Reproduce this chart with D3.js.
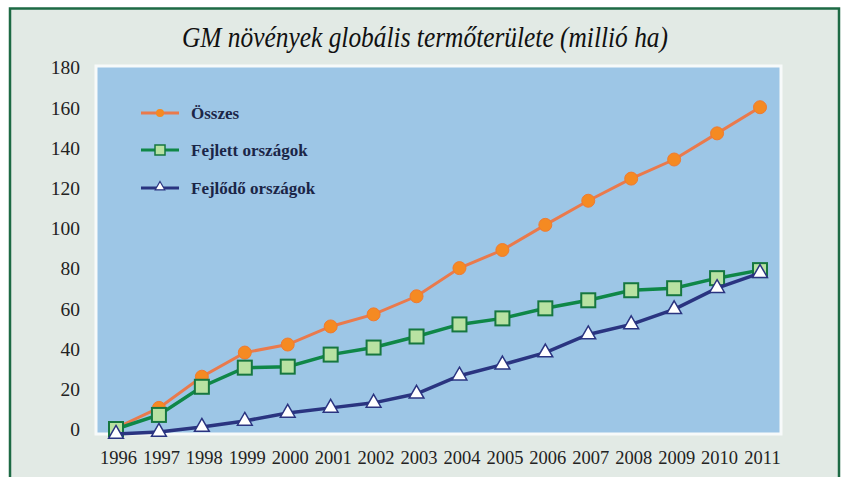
<!DOCTYPE html>
<html><head><meta charset="utf-8">
<script src="https://cdn.jsdelivr.net/npm/d3@7"></script>
<style>html,body{margin:0;padding:0;background:#e2eae5;}svg{display:block;}</style>
</head><body>
<svg id="chart" width="842" height="477" font-family="Liberation Serif"></svg>
<script>
const years = [1996,1997,1998,1999,2000,2001,2002,2003,2004,2005,2006,2007,2008,2009,2010,2011];
const osszes = [0.5,10.5,26,38,42,51,57,66,80,89,101.5,113.5,124.5,134,147,160];
const fejlett = [0,7,21,30.5,31,37,40.5,46,52,55,60,64,69,70,75,79];
const fejlodo = [-2.5,-1.5,1,4,8,10.5,13,17.5,26.5,32,38,47,52,59.5,70,77.5];
const yTicks = [0,20,40,60,80,100,120,140,160,180];
const seriesNames = ["Összes","Fejlett országok","Fejlődő országok"];
const title = "GM növények globális termőterülete (millió ha)";
const SERIF = '"Liberation Serif", "Times New Roman"';

const svg = d3.select("#chart");
svg.append("rect").attr("x",0).attr("y",0).attr("width",842).attr("height",477).attr("fill","#ffffff");
svg.append("rect").attr("x",10).attr("y",8.5).attr("width",829).attr("height",520)
  .attr("fill","#e2eae5").attr("stroke","#1d6a44").attr("stroke-width",2.5);

svg.append("text").attr("x",425).attr("y",47).attr("text-anchor","middle")
  .style("font-family",SERIF).style("font-style","italic")
  .style("font-size","29px").attr("fill","#111")
  .attr("textLength",486).attr("lengthAdjust","spacingAndGlyphs")
  .text(title);

const x = d3.scaleLinear().domain([1996,2011]).range([116,760]);
const y = d3.scaleLinear().domain([0,180]).range([429,67]);

svg.append("rect").attr("x",96).attr("y",66).attr("width",685).attr("height",368)
  .attr("fill","#9dc6e6").attr("stroke","#f7fafa").attr("stroke-width",3);

const yAxis = d3.axisLeft(y).tickValues(yTicks).tickSize(0).tickPadding(0);
const gy = svg.append("g").attr("transform","translate(80,0)").call(yAxis);
gy.attr("font-family","Liberation Serif").attr("font-size",19);
gy.select(".domain").remove();
gy.selectAll("text").style("font-family",SERIF).style("font-size","19.5px").attr("fill","#222").attr("dy","0.35em");

const xAxis = d3.axisBottom(x).tickValues(years).tickFormat(d3.format("d")).tickSize(0).tickPadding(0);
const gx = svg.append("g").attr("transform","translate(2,451)").call(xAxis);
gx.attr("font-family","Liberation Serif").attr("font-size",18);
gx.select(".domain").remove();
gx.selectAll("text").style("font-family",SERIF).style("font-size","18.5px").attr("fill","#222").attr("dy","0.71em");

const line = d3.line().x((d,i)=>x(years[i])).y(d=>y(d));

svg.append("path").datum(osszes).attr("d",line).attr("fill","none").attr("stroke","#ea7a4c").attr("stroke-width",3);
svg.selectAll(".o").data(osszes).enter().append("circle")
  .attr("cx",(d,i)=>x(years[i])).attr("cy",d=>y(d)).attr("r",6.5)
  .attr("fill","#f58a22").attr("stroke","#f07a30").attr("stroke-width",1);

svg.append("path").datum(fejlett).attr("d",line).attr("fill","none").attr("stroke","#0f8747").attr("stroke-width",3.5);
svg.selectAll(".f").data(fejlett).enter().append("rect")
  .attr("x",(d,i)=>x(years[i])-7).attr("y",d=>y(d)-7).attr("width",14).attr("height",14)
  .attr("fill","#b8e2a2").attr("stroke","#16773f").attr("stroke-width",2);

const tri = d3.symbol().type(d3.symbolTriangle).size(95);
svg.append("path").datum(fejlodo).attr("d",line).attr("fill","none").attr("stroke","#2a3480").attr("stroke-width",3.5);
svg.selectAll(".t").data(fejlodo).enter().append("path")
  .attr("d",tri).attr("transform",(d,i)=>`translate(${x(years[i])},${y(d)})`)
  .attr("fill","#ffffff").attr("stroke","#2a3480").attr("stroke-width",1.5);

const lg = svg.append("g");
const ly = [113,150,188];
const lcol = ["#ea7a4c","#0f8747","#2a3480"];
seriesNames.forEach((n,i)=>{
  lg.append("line").attr("x1",141).attr("x2",179).attr("y1",ly[i]).attr("y2",ly[i]).attr("stroke",lcol[i]).attr("stroke-width",3);
  if(i===0) lg.append("circle").attr("cx",160).attr("cy",ly[i]).attr("r",4).attr("fill","#f58a22");
  if(i===1) lg.append("rect").attr("x",155).attr("y",ly[i]-5).attr("width",10).attr("height",10).attr("fill","#b8e2a2").attr("stroke","#16773f").attr("stroke-width",1.5);
  if(i===2) lg.append("path").attr("d",d3.symbol().type(d3.symbolTriangle).size(40)).attr("transform",`translate(160,${ly[i]-1})`).attr("fill","#fff").attr("stroke","#2a3480").attr("stroke-width",1.2);
  lg.append("text").attr("x",191).attr("y",ly[i]).attr("dy","0.35em")
    .style("font-family",SERIF).style("font-weight","bold").style("font-size","17px")
    .attr("fill","#1b2547").text(n);
});
</script>
</body></html>
